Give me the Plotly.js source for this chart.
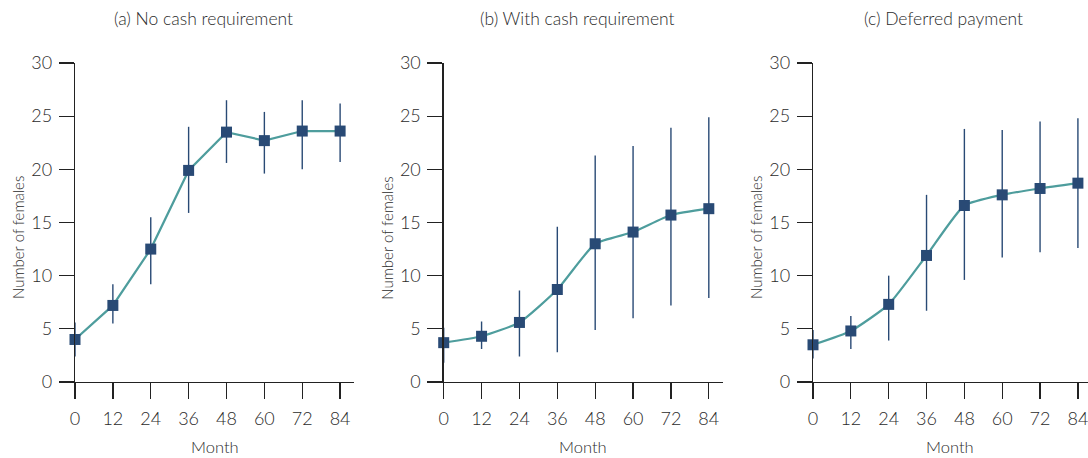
<!DOCTYPE html>
<html>
<head>
<meta charset="utf-8">
<script src="https://cdn.plot.ly/plotly-3.0.1.min.js"></script>
<style>
html,body{margin:0;padding:0;background:#fff;}
#chart{width:1088px;height:458px;}
</style>
</head>
<body>
<div id="chart"></div>
<script>
// ---- data ----
const months = [0, 12, 24, 36, 48, 60, 72, 84];
const monthTicks = ['0', '12', '24', '36', '48', '60', '72', '84'];
const yTicks = [0, 5, 10, 15, 20, 25, 30];
const panelTitles = ['(a) No cash requirement', '(b) With cash requirement', '(c) Deferred payment'];

const meanA = [4.0, 7.2, 12.5, 19.9, 23.5, 22.7, 23.6, 23.6];
const upperA = [5.6, 9.2, 15.5, 24.0, 26.5, 25.4, 26.5, 26.2];
const lowerA = [2.4, 5.5, 9.2, 15.9, 20.6, 19.6, 20.0, 20.7];

const meanB = [3.7, 4.3, 5.6, 8.7, 13.0, 14.1, 15.7, 16.3];
const upperB = [5.1, 5.7, 8.6, 14.6, 21.3, 22.2, 23.9, 24.9];
const lowerB = [1.8, 3.1, 2.4, 2.8, 4.9, 6.0, 7.2, 7.9];

const meanC = [3.5, 4.8, 7.3, 11.9, 16.6, 17.6, 18.2, 18.7];
const upperC = [4.9, 6.2, 10.0, 17.6, 23.8, 23.7, 24.5, 24.8];
const lowerC = [2.2, 3.1, 3.9, 6.7, 9.6, 11.7, 12.2, 12.6];

// ---- styling ----
const FONT = 'Lato, "Open Sans", sans-serif';
const lineColor = '#4e9d9d';
const markColor = '#294a75';
const axisColor = '#222222';
const textColor = '#2b2b2b';

const series = [
  {mean: meanA, up: upperA, lo: lowerA, shape: 'linear'},
  {mean: meanB, up: upperB, lo: lowerB, shape: 'spline'},
  {mean: meanC, up: upperC, lo: lowerC, shape: 'spline'}
];

const W = 1088;
const domains = [[75 / W, 354 / W], [443.7 / W, 722.7 / W], [813 / W, 1]];
const xEnds = [88.4, 88.4, 87.2];
const titleX = [203 / W, 577 / W, 943 / W];

const traces = [];
series.forEach((s, i) => {
  const ax = i === 0 ? '' : String(i + 1);
  traces.push({
    x: months, y: s.mean, type: 'scatter', mode: 'lines',
    line: {color: lineColor, width: 2.2, shape: s.shape, smoothing: 0.5},
    xaxis: 'x' + ax, yaxis: 'y' + ax, hoverinfo: 'skip', cliponaxis: false
  });
  traces.push({
    x: months, y: s.mean, type: 'scatter', mode: 'markers',
    marker: {symbol: 'square', size: 11, color: markColor},
    error_y: {
      type: 'data', symmetric: false,
      array: s.up.map((u, k) => u - s.mean[k]),
      arrayminus: s.mean.map((m, k) => m - s.lo[k]),
      color: markColor, thickness: 1.4, width: 0
    },
    xaxis: 'x' + ax, yaxis: 'y' + ax, cliponaxis: false
  });
});

const layout = {
  width: 1088, height: 458,
  margin: {l: 0, r: 0, t: 63, b: 76},
  paper_bgcolor: '#ffffff', plot_bgcolor: '#ffffff',
  showlegend: false,
  font: {family: FONT, color: textColor, weight: 300},
  annotations: []
};

for (let i = 0; i < 3; i++) {
  const ax = i === 0 ? '' : String(i + 1);
  layout['xaxis' + ax] = {
    domain: domains[i], anchor: 'y' + ax,
    range: [0, xEnds[i]],
    tickmode: 'array', tickvals: months, ticktext: monthTicks,
    ticks: 'outside', ticklen: 16, tickwidth: 1.3, tickcolor: axisColor,
    showline: true, linecolor: axisColor, linewidth: 1.3,
    showgrid: false, zeroline: false,
    tickfont: {family: FONT, size: 18, color: textColor, weight: 300},
    ticklabelstandoff: 4, ticklabeloverflow: 'allow'
  };
  layout['yaxis' + ax] = {
    domain: [0, 1], anchor: 'x' + ax,
    range: [0, 30],
    tickmode: 'array', tickvals: yTicks,
    ticks: 'outside', ticklen: 15, tickwidth: 1.3, tickcolor: axisColor,
    showline: true, linecolor: axisColor, linewidth: 1.3,
    showgrid: false, zeroline: false,
    tickfont: {family: FONT, size: 18, color: textColor, weight: 300},
    ticklabelstandoff: 3, ticklabeloverflow: 'allow'
  };
  layout.annotations.push({
    text: panelTitles[i], xref: 'paper', yref: 'paper',
    x: titleX[i], y: 1 + 45 / 319, xanchor: 'center', yanchor: 'middle',
    showarrow: false, font: {family: FONT, size: 17.5, color: textColor, weight: 300}
  });
  layout.annotations.push({
    text: 'Number of females', xref: 'paper', yref: 'paper',
    x: (domains[i][0] * W - 57) / W, y: 1 - (238 - 63) / 319,
    xanchor: 'center', yanchor: 'middle', textangle: -90,
    showarrow: false, font: {family: FONT, size: 15, color: textColor, weight: 300}
  });
  layout.annotations.push({
    text: 'Month', xref: 'paper', yref: 'paper',
    x: (domains[i][0] + (domains[i][1] - domains[i][0]) * 0.5), y: -(447 - 382) / 319,
    xanchor: 'center', yanchor: 'middle',
    showarrow: false, font: {family: FONT, size: 16.5, color: textColor, weight: 300}
  });
}

Plotly.newPlot('chart', traces, layout, {displayModeBar: false, staticPlot: true});
</script>
</body>
</html>
